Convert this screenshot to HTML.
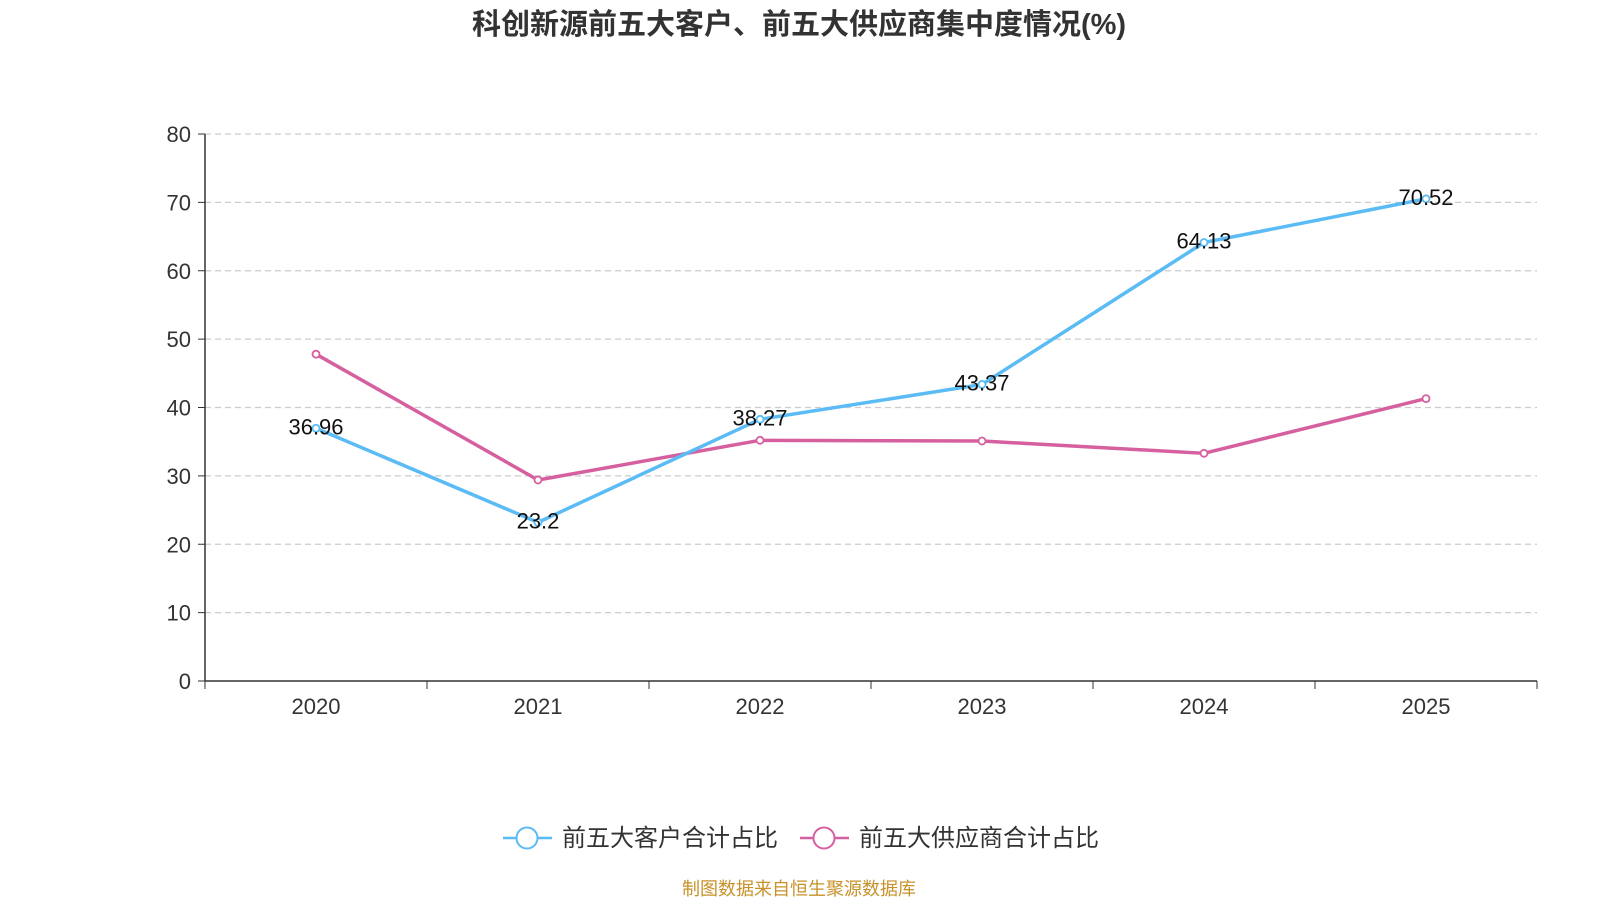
<!DOCTYPE html>
<html><head><meta charset="utf-8"><style>
body{margin:0;background:#fff;width:1600px;height:900px;overflow:hidden;font-family:"Liberation Sans","Noto Sans CJK SC",sans-serif}
</style></head><body>
<svg id="c" width="1600" height="900" xmlns="http://www.w3.org/2000/svg">
<text x="799" y="34" text-anchor="middle" font-size="29" font-weight="bold" fill="#333" font-family="Liberation Sans,Noto Sans CJK SC,sans-serif">科创新源前五大客户、前五大供应商集中度情况(%)</text>
<g id="grid"></g>
<g id="axes"></g>
<g id="series"></g>
<g font-size="24" fill="#333" font-family="Liberation Sans,Noto Sans CJK SC,sans-serif">
 <g>
  <line x1="503" y1="838" x2="552" y2="838" stroke="#5bbcf5" stroke-width="2.5"/>
  <circle cx="527" cy="838" r="10.5" fill="#fff" stroke="#5bbcf5" stroke-width="2"/>
  <text x="562" y="846">前五大客户合计占比</text></g>
 <g>
  <line x1="800" y1="838" x2="849" y2="838" stroke="#d6609f" stroke-width="2.5"/>
  <circle cx="824" cy="838" r="10.5" fill="#fff" stroke="#d6609f" stroke-width="2"/>
  <text x="859" y="846">前五大供应商合计占比</text></g>
</g>
<text x="799" y="895" text-anchor="middle" font-size="18" fill="#c8922a" font-family="Liberation Sans,Noto Sans CJK SC,sans-serif">制图数据来自恒生聚源数据库</text>
</svg>
<script>
const categories=["2020","2021","2022","2023","2024","2025"];
const customerValues=[36.96,23.2,38.27,43.37,64.13,70.52];
const supplierValues=[47.8,29.4,35.2,35.1,33.3,41.3];
const yTicks=[0,10,20,30,40,50,60,70,80];
const NS="http://www.w3.org/2000/svg";
const L=205,R=1537,T=134,B=681,yMax=80;
const bw=(R-L)/categories.length;
const x=i=>L+bw*(i+0.5);
const y=v=>B-(v/yMax)*(B-T);
function mk(p,tag,a){const e=document.createElementNS(NS,tag);for(const k in a)e.setAttribute(k,a[k]);p.appendChild(e);return e;}
const grid=document.getElementById('grid'),axes=document.getElementById('axes'),ser=document.getElementById('series');
yTicks.forEach(t=>{
 if(t>0){const g=mk(grid,'line',{x1:L,x2:R,y1:y(t),y2:y(t),stroke:'#ccc','stroke-dasharray':'6,4','stroke-width':1.3});
 
 }
 const tk=mk(axes,'line',{x1:L-7,x2:L,y1:y(t),y2:y(t),stroke:'#333'});
 
 
 const tx=mk(axes,'text',{x:L-14,y:y(t)+8,'text-anchor':'end','font-size':22,fill:'#333'});tx.textContent=t;
 
 
});
const ya=mk(axes,'line',{x1:L,x2:L,y1:T,y2:B,stroke:'#333','stroke-width':1.5});


const xa=mk(axes,'line',{x1:L,x2:R,y1:B,y2:B,stroke:'#333','stroke-width':1.5});


for(let i=0;i<=categories.length;i++){const t=mk(axes,'line',{x1:L+bw*i,x2:L+bw*i,y1:B,y2:B+8,stroke:'#333'});
 
 }
categories.forEach((c,i)=>{const t=mk(axes,'text',{x:x(i),y:B+33,'text-anchor':'middle','font-size':22,fill:'#333'});t.textContent=c;
 
 });
function series(vals,color,name,labels){
 const p=mk(ser,'polyline',{points:vals.map((v,i)=>x(i)+','+y(v)).join(' '),fill:'none',stroke:color,'stroke-width':3.5,'stroke-linejoin':'round'});
 
 
 vals.forEach((v,i)=>{const c=mk(ser,'circle',{cx:x(i),cy:y(v),r:3.5,fill:'#fff',stroke:color,'stroke-width':1.8});
  
  
  if(labels){const t=mk(ser,'text',{x:x(i),y:y(v)+6,'text-anchor':'middle','font-size':22,fill:'#111'});t.textContent=v;
   
   }
 });
}
series(supplierValues,'#d6609f','suppliers',false);
series(customerValues,'#5bbcf5','customers',true);
</script>
</body></html>
